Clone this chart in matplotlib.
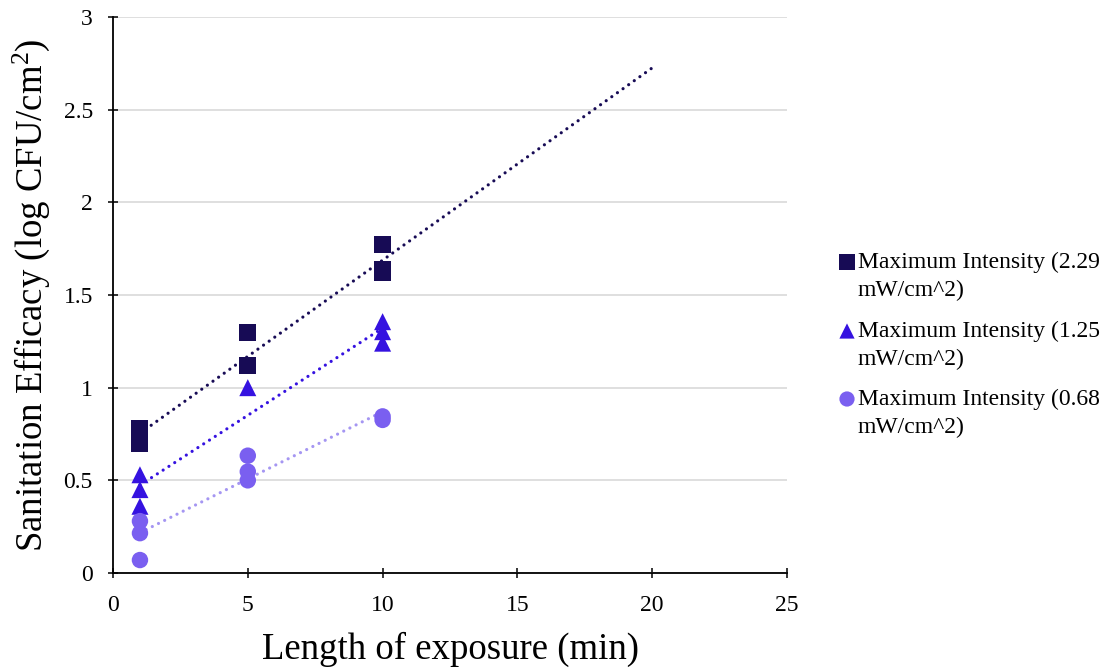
import numpy as np
import matplotlib
matplotlib.use("Agg")
import matplotlib.pyplot as plt

plt.rcParams['font.family'] = ['Liberation Serif', 'DejaVu Serif']
plt.rcParams['mathtext.fontset'] = 'custom'
plt.rcParams['mathtext.rm'] = 'Liberation Serif'
plt.rcParams['mathtext.it'] = 'Liberation Serif:italic'

# Data
x_high = [1, 1, 1, 5, 5, 10, 10, 10]
y_high = [0.78, 0.74, 0.70, 1.295, 1.117, 1.775, 1.635, 1.62]
x_mid = [1, 1, 1, 5, 10, 10, 10]
y_mid = [0.53, 0.45, 0.36, 1.00, 1.356, 1.302, 1.24]
x_low = [1, 1, 1, 5, 5, 5, 10, 10]
y_low = [0.28, 0.215, 0.07, 0.633, 0.547, 0.50, 0.845, 0.826]

labels = ["Maximum Intensity (2.29\nmW/cm^2)",
          "Maximum Intensity (1.25\nmW/cm^2)",
          "Maximum Intensity (0.68\nmW/cm^2)"]
colors = ["#170b55", "#3512e0", "#7a5ff0"]
trend_colors = ["#170b55", "#3512e0", "#a596f2"]
trend_end = [20, 10, 10]
markers = ["s", "^", "o"]
sizes = [150, 150, 140]

fig = plt.figure(figsize=(11.11, 6.68), dpi=100)
ax = fig.add_axes([0.1017, 0.1422, 0.6067, 0.8324])

series = [(x_high, y_high), (x_mid, y_mid), (x_low, y_low)]
for i, (xs, ys) in enumerate(series):
    m, b = np.polyfit(xs, ys, 1)
    xt = np.array([1, trend_end[i]])
    ax.plot(xt, m * xt + b, linestyle=(0, (0.01, 2.15)), color=trend_colors[i],
            lw=2.3, dash_capstyle='round', zorder=2)
for i, (xs, ys) in enumerate(series):
    ax.scatter(xs, ys, marker=markers[i], s=sizes[i], color=colors[i],
               edgecolors='none', zorder=3)

ax.set_xlim(0, 25)
ax.set_ylim(0, 3)
ax.set_xticks([0, 5, 10, 15, 20, 25])
ax.set_yticks([0, 0.5, 1, 1.5, 2, 2.5, 3])
ax.set_yticklabels(["0", "0.5", "1", "1.5", "2", "2.5", "3"])
ax.grid(axis='y', color='#d9d9d9', lw=1.2)
ax.set_axisbelow(True)
for s in ['top', 'right']:
    ax.spines[s].set_visible(False)
for s in ['left', 'bottom']:
    ax.spines[s].set_linewidth(1.3)
ax.tick_params(axis='both', direction='inout', length=7, width=1.1, labelsize=17)
ax.tick_params(axis='y', pad=11)
ax.tick_params(axis='x', pad=12)
ax.set_xlabel("Length of exposure (min)", fontsize=26.5, labelpad=12)
ax.set_ylabel("Sanitation Efficacy (log CFU/cm$^{\\mathrm{2}}$)", fontsize=26.5, labelpad=8)

# Legend drawn in an overlay with pixel coordinates
lax = fig.add_axes([0, 0, 1, 1])
lax.set_xlim(0, 1111)
lax.set_ylim(668, 0)
lax.axis('off')
entry_y = [262, 331, 399]
for i in range(3):
    lax.scatter([847], [entry_y[i]], marker=markers[i], s=120, color=colors[i],
                edgecolors='none')
    lax.text(858, entry_y[i] - 10, labels[i], fontsize=17, va='top', ha='left',
             linespacing=1.4)

fig.savefig("out.png", dpi=100)
